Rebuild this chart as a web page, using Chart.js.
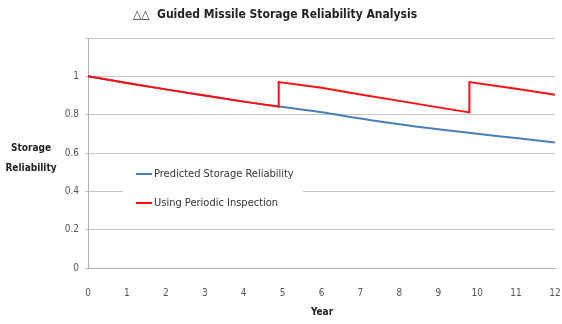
<!DOCTYPE html>
<html>
<head>
<meta charset="utf-8">
<script src="https://cdn.jsdelivr.net/npm/chart.js@4/dist/chart.umd.min.js"></script>
<style>
  html, body { margin: 0; padding: 0; background: #fff; }
  #wrap { width: 562px; height: 324px; }
</style>
</head>
<body>
<div id="wrap"><canvas id="chart" width="562" height="324"></canvas></div>
<script>
// ── Data ────────────────────────────────────────────────────────────────
const chartTitle  = '\u25B3\u25B3  Guided Missile Storage Reliability Analysis';
const yTitleLines = ['Storage', 'Reliability'];
const xTitle      = 'Year';
const seriesNames = ['Predicted Storage Reliability', 'Using Periodic Inspection'];

const years     = [0, 1, 2, 3, 4, 5, 6, 7, 8, 9, 10, 11, 12];
const predicted = [1.0, 0.965, 0.932, 0.900, 0.868, 0.840, 0.813, 0.780, 0.750, 0.724, 0.700, 0.678, 0.655];

// inspection resets the reliability at ~4.9 and ~9.8 years
const inspectionX = [0, 1, 2, 3, 4, 4.9, 4.9, 6, 7, 8, 9, 9.8, 9.8, 11, 12];
const inspectionY = [1.0, 0.965, 0.932, 0.900, 0.868, 0.842, 0.970, 0.940, 0.905, 0.872, 0.838, 0.812, 0.970, 0.935, 0.904];

const COLORS = {
  predicted: '#4a7ebb',
  inspection: '#ff1010',
  grid: '#c6c6c6',
  tick: '#555555',
  text: '#333333',
};

const FONT = '"DejaVu Sans Condensed", sans-serif';

// ── Overlay texts + legend ─────────────────────────────────────────────
const overlayPlugin = {
  id: 'overlay',
  afterDraw(chart) {
    const ctx = chart.ctx;
    const area = chart.chartArea;
    ctx.save();
    ctx.textBaseline = 'middle';

    // title
    ctx.fillStyle = '#222';
    ctx.font = `bold 12px ${FONT}`;
    ctx.textAlign = 'center';
    ctx.fillText(chartTitle, 275, 15);

    // y title (horizontal, two lines)
    ctx.font = `bold 10px ${FONT}`;
    ctx.fillText(yTitleLines[0], 31, 148);
    ctx.fillText(yTitleLines[1], 31, 168);

    // x title
    ctx.fillText(xTitle, 322, 312);

    // legend inside plot
    const lx = area.left + 35, ly = 174, gap = 29;
    ctx.fillStyle = '#fff';
    ctx.fillRect(area.left + 35, 160, 180, 56);
    const cols = [COLORS.predicted, COLORS.inspection];
    ctx.font = `11px ${FONT}`;
    ctx.textAlign = 'left';
    seriesNames.forEach((name, i) => {
      const y = ly + i * gap;
      ctx.strokeStyle = cols[i];
      ctx.lineWidth = 2;
      ctx.beginPath();
      ctx.moveTo(lx + 13, y);
      ctx.lineTo(lx + 29, y);
      ctx.stroke();
      ctx.fillStyle = COLORS.text;
      ctx.fillText(name, lx + 31, y);
    });
    ctx.restore();
  },
};

new Chart(document.getElementById('chart'), {
  type: 'line',
  data: {
    datasets: [
      {
        label: seriesNames[0],
        data: years.map((x, i) => ({ x, y: predicted[i] })),
        borderColor: COLORS.predicted,
        borderWidth: 2,
        pointRadius: 0,
        cubicInterpolationMode: 'monotone',
        order: 2,
      },
      {
        label: seriesNames[1],
        data: inspectionX.map((x, i) => ({ x, y: inspectionY[i] })),
        borderColor: COLORS.inspection,
        borderWidth: 2,
        pointRadius: 0,
        tension: 0,
        order: 1,
      },
    ],
  },
  options: {
    responsive: false,
    animation: false,
    layout: { padding: { top: 38, right: 7, left: 0, bottom: 0 } },
    plugins: {
      legend: { display: false },
      title: { display: false },
      tooltip: { enabled: false },
    },
    scales: {
      x: {
        type: 'linear',
        min: 0,
        max: 12,
        grid: { display: false },
        border: { color: '#b0b0b0', width: 1 },
        ticks: {
          stepSize: 1,
          color: COLORS.tick,
          font: { family: FONT, size: 10 },
          padding: 11,
          maxRotation: 0,
        },
        afterFit: s => { s.height = 56; s.paddingLeft = 0; s.paddingRight = 0; },
      },
      y: {
        min: 0,
        max: 1.2,
        grid: { color: COLORS.grid, drawTicks: true, tickLength: 3 },
        border: { color: '#b0b0b0', width: 1 },
        ticks: {
          stepSize: 0.2,
          color: COLORS.tick,
          font: { family: FONT, size: 10 },
          padding: 6,
          callback: v => (v > 1.1 ? '' : String(Number(v.toFixed(1)))),
        },
        afterFit: s => { s.width = 88; s.paddingTop = 0; s.paddingBottom = 0; },
      },
    },
  },
  plugins: [overlayPlugin],
});
</script>
</body>
</html>
